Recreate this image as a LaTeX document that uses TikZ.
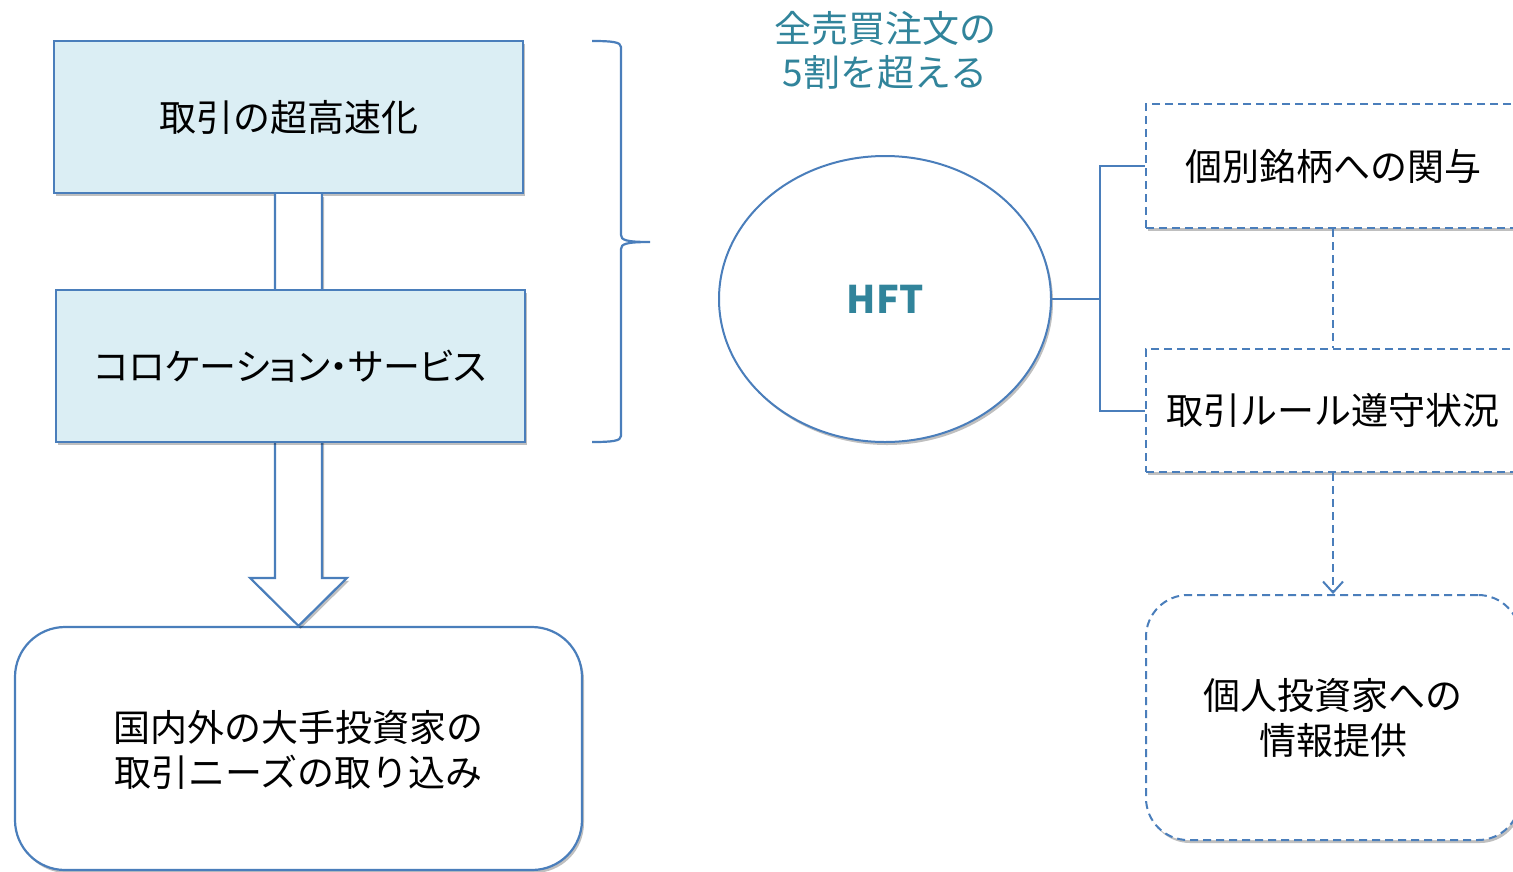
\documentclass[tikz,border=0pt]{standalone}
\usepackage{fontspec}
\setmainfont{Noto Sans CJK JP}
\usetikzlibrary{shapes.geometric,arrows.meta,shadows,calc}
\definecolor{edge}{HTML}{4A7EBB}
\definecolor{boxfill}{HTML}{DBEEF4}
\definecolor{teal}{HTML}{31849B}
\begin{document}
\begin{tikzpicture}[x=1pt,y=-1pt,
  shade/.style={drop shadow={shadow xshift=2pt,shadow yshift=-3pt,opacity=0.25,fill=black}},
  bluebox/.style={draw=edge,line width=2.2pt,fill=boxfill,shade,inner sep=0pt},
  jtext/.style={font=\fontsize{37}{45}\selectfont,text=black,align=center},
  dbox/.style={draw=edge,line width=2pt,dash pattern=on 8pt off 5pt,fill=white,shade,inner sep=0pt},
  link/.style={draw=edge,line width=2pt}]
\useasboundingbox (0,0) rectangle (1513,871);
% block arrow (behind box 2)
\node[bluebox,minimum width=469pt,minimum height=152pt] (b1) at (288.5,117) {};
\node[draw=edge,line width=2.2pt,fill=white,rounded corners=50pt,minimum width=567pt,minimum height=243pt,shade] (goal) at (298.5,748.5) {};
\coordinate (tip) at (goal.north);
\fill[white,shade] ($(tip |- b1.south)+(-23.5,0)$) -- ($(tip)+(-23.5,-48)$) -- ($(tip)+(-48.5,-48)$) -- (tip) -- ($(tip)+(48.5,-48)$) -- ($(tip)+(23.5,-48)$) -- ($(tip |- b1.south)+(23.5,0)$) -- cycle;
\draw[edge,line width=2.2pt,line join=miter] ($(tip |- b1.south)+(-23.5,0)$) -- ($(tip)+(-23.5,-48)$) -- ($(tip)+(-48.5,-48)$) -- (tip) -- ($(tip)+(48.5,-48)$) -- ($(tip)+(23.5,-48)$) -- ($(tip |- b1.south)+(23.5,0)$);
\node[bluebox,minimum width=469pt,minimum height=152pt] (b2) at (290.5,366) {};
\node[jtext] at (b1.center) {取引の超高速化};
\node[jtext,font=\fontsize{37}{45}\selectfont\addfontfeatures{RawFeature=+palt}] at (b2.center) {コロケーション・サービス};
\node[jtext] at ($(goal.center)+(0,1)$) {国内外の大手投資家の\\取引ニーズの取り込み};
% brace
\draw[edge,line width=2.2pt] (592,41) .. controls (612,41) and (621,42) .. (621,47) -- (621,235) .. controls (621,240) and (626,242) .. (650,242) .. controls (626,242) and (621,244) .. (621,249) -- (621,436) .. controls (621,441) and (612,442) .. (592,442);
% top label
\node[font=\fontsize{37}{44}\selectfont,text=teal,align=center] (lbl) at (885,50) {全売買注文の\\5割を超える};
% ellipse
\node[ellipse,draw=edge,line width=2pt,fill=white,shade,minimum width=332pt,minimum height=286pt,inner sep=0pt] (hft) at (885,299) {};
\node[font=\fontsize{38}{40}\selectfont\bfseries,text=teal] at (hft.center) {HFT};
% right boxes
\node[dbox,minimum width=374pt,minimum height=124pt] (r1) at (1333,166) {};
\node[jtext] at (r1.center) {個別銘柄への関与};
\node[dbox,minimum width=374pt,minimum height=123pt] (r2) at (1333,410.5) {};
\node[jtext] at (r2.center) {取引ルール遵守状況};
\node[dbox,rounded corners=42pt,minimum width=374pt,minimum height=245pt] (r3) at (1333,717.5) {};
\node[jtext] at ($(r3.center)+(0,0)$) {個人投資家への\\情報提供};
% connectors
\draw[link] (hft.east) -- ++(48,0) coordinate (split) |- (r1.west);
\draw[link] (split) |- (r2.west);
\draw[link,dash pattern=on 8pt off 5pt] (r1.south) -- (r2.north);
\draw[link,dash pattern=on 8pt off 5pt,-{Straight Barb[length=11pt,width=20pt,line width=2pt]}] (r2.south) -- (r3.north);
\end{tikzpicture}
\end{document}
